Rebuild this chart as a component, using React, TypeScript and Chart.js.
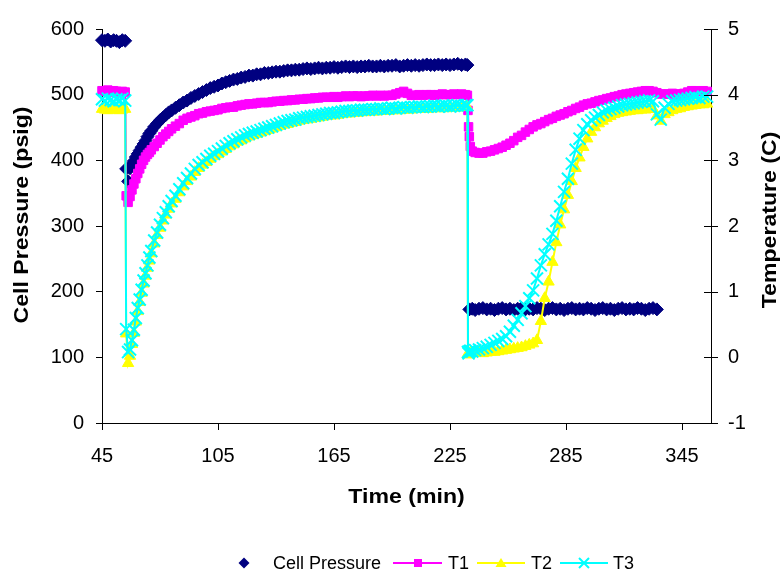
import React, { useEffect, useRef } from "react";
import { Chart, registerables } from "chart.js";

Chart.register(...registerables);

// ---------- DATA ----------
const minutes = [
  // before first drop
  45, 46.5, 48, 49.5, 51, 52.5, 54, 55.5, 57,
  // recovery 1
  57.5, 58.5, 59.5, 60.5, 61.5, 62.5, 63.5, 64.5, 65.5, 66.5, 67.5, 68.5, 69.5, 70.5, 72, 73.5, 75, 76.5, 78, 79.5, 81,
  83, 85, 87, 89, 91, 93, 95, 97, 99, 101,
  103, 105, 107, 109, 111, 113, 115, 117, 119, 121,
  123, 125, 127, 129, 131, 133, 135, 137, 139, 141,
  143, 145, 147, 149, 151, 153, 155, 157, 159, 161,
  163, 165, 167, 169, 171, 173, 175, 177, 179, 181,
  183, 185, 187, 189, 191, 193, 195, 197, 199, 201,
  203, 205, 207, 209, 211, 213, 215, 217, 219, 221,
  223, 225, 227, 229, 231, 233,
  234,
  // second drop
  234.3, 234.6, 235, 235.5, 236.5, 238, 240,
  242, 244, 246, 248, 250, 252, 254, 256, 258, 260,
  262, 264, 266, 268, 270, 272, 274, 276, 278, 280,
  282, 284, 286, 288, 290, 292, 294, 296, 298, 300,
  302, 304, 306, 308, 310, 312, 314, 316, 318, 320,
  322, 324, 326, 328, 330, 332, 334, 336, 338, 340,
  342, 344, 346, 348, 350, 352, 354, 356, 358,
];

const cellPressure: (number | null)[] = [
  583, 582, 584, 581, 583, 582, 580, 583, 582,
  387, 368, 388, 394, 399, 405, 410, 415, 420, 425, 430, 436, 441, 445, 451, 456, 461, 465, 469, 473, 476,
  480, 484, 488, 491, 495, 498, 501, 504, 507, 510,
  512, 514, 517, 519, 521, 523, 524, 526, 527, 529,
  529, 531, 531, 533, 533, 534, 535, 535, 536, 537,
  537, 538, 538, 539, 540, 539, 540, 541, 540, 541,
  541, 542, 541, 542, 543, 542, 543, 542, 543, 543,
  544, 543, 543, 544, 543, 544, 544, 545, 543, 544,
  545, 544, 545, 544, 545, 546, 545, 545, 546, 545,
  546, 545, 546, 547, 545, 546,
  545,
  null, null, 173, null, 174, 172, 174,
  175, 173, 174, 172, 174, 175, 173, 174, 172, 174,
  175, 173, 174, 173, 175, 174, 172, 174, 175, 173,
  174, 172, 174, 175, 173, 174, 173, 175, 174, 172,
  174, 175, 173, 174, 172, 174, 175, 173, 174, 173,
  175, 174, 172, 174, 175, 173, null, null, null, null,
  null, null, null, null, null, null, null, null, null,
];

const t1: number[] = [
  4.06, 4.05, 4.07, 4.04, 4.06, 4.05, 4.03, 4.05, 4.04,
  2.46, 2.36, 2.45, 2.55, 2.64, 2.72, 2.8, 2.87, 2.94, 3.0, 3.05, 3.09, 3.12, 3.16, 3.21, 3.26, 3.31, 3.36, 3.4, 3.44, 3.48,
  3.52, 3.56, 3.61, 3.64, 3.66, 3.68, 3.71, 3.72, 3.74, 3.75,
  3.76, 3.77, 3.79, 3.8, 3.81, 3.81, 3.83, 3.84, 3.85, 3.86,
  3.86, 3.87, 3.88, 3.88, 3.88, 3.89, 3.9, 3.9, 3.91, 3.91,
  3.92, 3.92, 3.93, 3.93, 3.94, 3.94, 3.95, 3.95, 3.96, 3.96,
  3.96, 3.97, 3.96, 3.97, 3.98, 3.97, 3.98, 3.98, 3.97, 3.98,
  3.98, 3.99, 3.98, 3.99, 3.98, 3.99, 3.99, 4.01, 4.03, 4.05,
  4.02, 3.99, 3.99, 4.0, 3.99, 4.0, 4.0, 3.99, 4.0, 4.01,
  4.0, 4.0, 4.01, 4.0, 4.01, 4.0,
  3.99,
  3.76, 3.51, 3.36, 3.21, 3.14, 3.12, 3.11,
  3.11, 3.13, 3.14, 3.16, 3.18, 3.2, 3.23, 3.26, 3.3, 3.35,
  3.38, 3.43, 3.47, 3.51, 3.54, 3.56, 3.59, 3.62, 3.64, 3.67,
  3.69, 3.71, 3.74, 3.76, 3.79, 3.81, 3.84, 3.86, 3.87, 3.89,
  3.91, 3.92, 3.94, 3.95, 3.97, 3.98, 4.0, 4.01, 4.02, 4.03,
  4.04, 4.05, 4.06, 4.06, 4.05, 4.03, 4.01, 4.01, 4.01, 4.02,
  4.01, 4.01, 4.02, 4.04, 4.06, 4.06, 4.05, 4.06, 4.05,
];

const t2: number[] = [
  3.78, 3.77, 3.76, 3.78, 3.77, 3.79, 3.76, 3.77, 3.78,
  0.36, -0.09, 0.02, 0.2, 0.37, 0.54, 0.7, 0.84, 0.98, 1.12, 1.24, 1.36, 1.47, 1.58, 1.73, 1.86, 1.97, 2.08, 2.17, 2.26, 2.34,
  2.41, 2.51, 2.6, 2.68, 2.75, 2.82, 2.88, 2.93, 2.97, 3.02,
  3.06, 3.09, 3.13, 3.17, 3.21, 3.24, 3.28, 3.3, 3.33, 3.36,
  3.38, 3.4, 3.42, 3.44, 3.46, 3.48, 3.5, 3.52, 3.54, 3.55,
  3.57, 3.58, 3.6, 3.61, 3.62, 3.63, 3.64, 3.65, 3.66, 3.67,
  3.68, 3.68, 3.69, 3.7, 3.71, 3.71, 3.72, 3.72, 3.73, 3.73,
  3.74, 3.74, 3.74, 3.75, 3.75, 3.75, 3.76, 3.76, 3.76, 3.77,
  3.77, 3.77, 3.78, 3.78, 3.78, 3.78, 3.79, 3.79, 3.79, 3.8,
  3.79, 3.8, 3.8, 3.8, 3.81, 3.81,
  3.81,
  0.06, 0.04, 0.05, 0.07, 0.06, 0.07, 0.08,
  0.06, 0.07, 0.08, 0.08, 0.09, 0.1, 0.11, 0.12, 0.13, 0.14,
  0.15, 0.17, 0.19, 0.21, 0.26, 0.55, 0.9, 1.15, 1.45, 1.75,
  2.02, 2.25, 2.47, 2.68, 2.88, 3.04, 3.2, 3.33, 3.43, 3.5,
  3.56, 3.6, 3.64, 3.67, 3.7, 3.72, 3.73, 3.74, 3.75, 3.76,
  3.76, 3.77, 3.77, 3.78, 3.78, 3.68, 3.6, 3.7, 3.73, 3.76,
  3.78, 3.79, 3.81, 3.82, 3.83, 3.84, 3.85, 3.85, 3.86,
];

const t3: number[] = [
  3.93, 3.91, 3.94, 3.92, 3.9, 3.93, 3.92, 3.94, 3.91,
  0.43, 0.08, 0.12, 0.26, 0.42, 0.6, 0.75, 0.88, 1.03, 1.17, 1.28, 1.4, 1.52, 1.62, 1.78, 1.9, 2.02, 2.12, 2.21, 2.3, 2.38,
  2.46, 2.56, 2.65, 2.73, 2.8, 2.87, 2.93, 2.97, 3.02, 3.07,
  3.1, 3.14, 3.18, 3.22, 3.26, 3.29, 3.32, 3.35, 3.38, 3.4,
  3.42, 3.44, 3.46, 3.48, 3.5, 3.52, 3.54, 3.56, 3.58, 3.6,
  3.61, 3.62, 3.64, 3.65, 3.66, 3.67, 3.68, 3.69, 3.7, 3.71,
  3.72, 3.72, 3.73, 3.74, 3.75, 3.75, 3.76, 3.76, 3.77, 3.77,
  3.77, 3.78, 3.78, 3.79, 3.78, 3.79, 3.8, 3.79, 3.8, 3.81,
  3.8, 3.81, 3.81, 3.82, 3.81, 3.82, 3.82, 3.83, 3.82, 3.83,
  3.83, 3.82, 3.83, 3.84, 3.83, 3.84,
  3.84,
  0.08, 0.06, 0.09, 0.1, 0.09, 0.11, 0.12,
  0.14, 0.16, 0.19, 0.22, 0.25, 0.28, 0.32, 0.39, 0.48, 0.57,
  0.67, 0.78, 0.9, 1.02, 1.2, 1.4, 1.57, 1.72, 1.88, 2.08,
  2.3, 2.52, 2.72, 2.95, 3.16, 3.33, 3.46, 3.55, 3.61, 3.65,
  3.69, 3.73, 3.76, 3.78, 3.8, 3.82, 3.84, 3.85, 3.86, 3.87,
  3.88, 3.89, 3.9, 3.91, 3.9, 3.7, 3.62, 3.8, 3.86, 3.9,
  3.91, 3.92, 3.93, 3.94, 3.95, 3.96, 3.95, 3.97, 3.97,
];

const xTicks = [45, 105, 165, 225, 285, 345];
const seriesNames = ["Cell Pressure", "T1", "T2", "T3"];
const xTitle = "Time (min)";
const yTitle = "Cell Pressure (psig)";
const y1Title = "Temperature (C)";

// ---------- STYLE ----------
const FONT = "'Liberation Sans', Arial, Helvetica, sans-serif";
const NAVY = "#000080";
const MAGENTA = "#FF00FF";
const YELLOW = "#FFFF00";
const CYAN = "#00FFFF";
const W = 784;
const H = 575;

const toPoints = (ys: (number | null)[]) => minutes.map((m, i) => ({ x: m, y: ys[i] ?? null }));

function drawMarker(ctx: CanvasRenderingContext2D, style: string, x: number, y: number, color: string) {
  ctx.save();
  ctx.fillStyle = color;
  ctx.strokeStyle = color;
  ctx.lineWidth = 1;
  ctx.beginPath();
  if (style === "diamond") {
    const r = 5.5;
    ctx.moveTo(x, y - r);
    ctx.lineTo(x + r, y);
    ctx.lineTo(x, y + r);
    ctx.lineTo(x - r, y);
    ctx.closePath();
    ctx.fill();
  } else if (style === "square") {
    ctx.rect(x - 4, y - 4, 8, 8);
    ctx.fill();
  } else if (style === "triangle") {
    ctx.moveTo(x, y - 5);
    ctx.lineTo(x + 5.5, y + 4);
    ctx.lineTo(x - 5.5, y + 4);
    ctx.closePath();
    ctx.fill();
  } else if (style === "x") {
    ctx.lineWidth = 2;
    ctx.moveTo(x - 5, y - 5);
    ctx.lineTo(x + 5, y + 5);
    ctx.moveTo(x + 5, y - 5);
    ctx.lineTo(x - 5, y + 5);
    ctx.stroke();
  }
  ctx.restore();
}

const decorPlugin = {
  id: "decor",
  afterDraw(chart: any) {
    const ctx: CanvasRenderingContext2D = chart.ctx;
    const area = chart.chartArea;
    const y1 = chart.scales.y1;
    // crossing tick marks on right axis
    ctx.save();
    ctx.strokeStyle = "#000";
    ctx.lineWidth = 1;
    ctx.beginPath();
    y1.ticks.forEach((_t: any, i: number) => {
      const py = Math.round(y1.getPixelForTick(i)) + 0.5;
      ctx.moveTo(area.right - 7, py);
      ctx.lineTo(area.right + 7, py);
    });
    ctx.stroke();
    ctx.restore();

    // axis titles
    ctx.save();
    ctx.fillStyle = "#000";
    ctx.font = `bold 21px ${FONT}`;
    ctx.textAlign = "center";
    ctx.textBaseline = "alphabetic";
    ctx.save();
    ctx.translate((area.left + area.right) / 2, 503);
    ctx.scale(1.1, 1);
    ctx.fillText(xTitle, 0, 0);
    ctx.restore();
    ctx.save();
    ctx.translate(28, 215);
    ctx.rotate(-Math.PI / 2);
    ctx.scale(1.1, 1);
    ctx.fillText(yTitle, 0, 0);
    ctx.restore();
    ctx.save();
    ctx.translate(776, 220);
    ctx.rotate(-Math.PI / 2);
    ctx.scale(1.1, 1);
    ctx.fillText(y1Title, 0, 0);
    ctx.restore();
    ctx.restore();

    // legend
    const ly = 563;
    const items = [
      { name: seriesNames[0], color: NAVY, marker: "diamond", line: false, mx: 244, tx: 273 },
      { name: seriesNames[1], color: MAGENTA, marker: "square", line: true, lx0: 393, lx1: 442, mx: 418, tx: 448 },
      { name: seriesNames[2], color: YELLOW, marker: "triangle", line: true, lx0: 477, lx1: 525, mx: 501, tx: 531 },
      { name: seriesNames[3], color: CYAN, marker: "x", line: true, lx0: 560, lx1: 608, mx: 584, tx: 613 },
    ];
    ctx.save();
    ctx.font = `18px ${FONT}`;
    ctx.textAlign = "left";
    ctx.textBaseline = "alphabetic";
    items.forEach((it: any) => {
      if (it.line) {
        ctx.save();
        ctx.strokeStyle = it.color;
        ctx.lineWidth = 2;
        ctx.beginPath();
        ctx.moveTo(it.lx0, ly);
        ctx.lineTo(it.lx1, ly);
        ctx.stroke();
        ctx.restore();
      }
      drawMarker(ctx, it.marker, it.mx, ly, it.color);
      ctx.fillStyle = "#000";
      ctx.fillText(it.name, it.tx, ly + 6);
    });
    ctx.restore();
  },
};

export default function App() {
  const ref = useRef<HTMLCanvasElement>(null);

  useEffect(() => {
    document.body.style.margin = "0";
    const canvas = ref.current;
    if (!canvas) return;

    const tickFont = { family: FONT, size: 20 };

    const chart = new Chart(canvas, {
      type: "line",
      data: {
        datasets: [
          {
            label: seriesNames[0],
            data: toPoints(cellPressure),
            yAxisID: "y",
            showLine: false,
            pointStyle: "rectRot",
            pointRadius: 6.5,
            pointBackgroundColor: NAVY,
            pointBorderColor: NAVY,
            pointBorderWidth: 1,
            borderColor: NAVY,
            backgroundColor: NAVY,
            clip: false,
            order: 4,
          },
          {
            label: seriesNames[1],
            data: toPoints(t1),
            yAxisID: "y1",
            borderColor: MAGENTA,
            backgroundColor: MAGENTA,
            borderWidth: 2,
            pointStyle: "rect",
            pointRadius: 6,
            pointBackgroundColor: MAGENTA,
            pointBorderColor: MAGENTA,
            pointBorderWidth: 1,
            tension: 0,
            clip: false,
            order: 3,
          },
          {
            label: seriesNames[2],
            data: toPoints(t2),
            yAxisID: "y1",
            borderColor: YELLOW,
            backgroundColor: YELLOW,
            borderWidth: 2,
            pointStyle: "triangle",
            pointRadius: 6.5,
            pointBackgroundColor: YELLOW,
            pointBorderColor: YELLOW,
            pointBorderWidth: 1,
            tension: 0,
            clip: false,
            order: 2,
          },
          {
            label: seriesNames[3],
            data: toPoints(t3),
            yAxisID: "y1",
            borderColor: CYAN,
            backgroundColor: CYAN,
            borderWidth: 2,
            pointStyle: "crossRot",
            pointRadius: 8.5,
            pointBackgroundColor: CYAN,
            pointBorderColor: CYAN,
            pointBorderWidth: 2,
            tension: 0,
            clip: false,
            order: 1,
          },
        ],
      },
      options: {
        responsive: false,
        animation: false,
        events: [],
        layout: { padding: { top: 20, left: 0, right: 0, bottom: 0 } },
        plugins: {
          legend: { display: false },
          tooltip: { enabled: false },
          title: { display: false },
        },
        scales: {
          x: {
            type: "linear",
            position: "bottom",
            min: 45,
            max: 360,
            afterBuildTicks: (scale: any) => {
              scale.ticks = xTicks.map((v) => ({ value: v }));
            },
            afterFit: (scale: any) => {
              scale.height = 152;
            },
            grid: { drawOnChartArea: false, drawTicks: true, tickLength: 7, color: "#000" },
            border: { display: true, color: "#000", width: 1 },
            ticks: { font: tickFont, color: "#000", padding: 14, maxRotation: 0, autoSkip: false },
          },
          y: {
            type: "linear",
            position: "left",
            min: 0,
            max: 600,
            afterFit: (scale: any) => {
              scale.width = 102;
            },
            grid: { drawOnChartArea: false, drawTicks: true, tickLength: 6, color: "#000" },
            border: { display: true, color: "#000", width: 1 },
            ticks: { stepSize: 100, font: tickFont, color: "#000", padding: 12 },
          },
          y1: {
            type: "linear",
            position: "right",
            min: -1,
            max: 5,
            afterFit: (scale: any) => {
              scale.width = 73;
            },
            grid: { drawOnChartArea: false, drawTicks: false, color: "#000" },
            border: { display: true, color: "#000", width: 1 },
            ticks: { stepSize: 1, font: tickFont, color: "#000", padding: 17 },
          },
        },
      } as any,
      plugins: [decorPlugin],
    } as any);

    return () => chart.destroy();
  }, []);

  return (
    <div style={{ position: "absolute", left: 0, top: 0, width: W, height: H, background: "#fff" }}>
      <canvas ref={ref} width={W} height={H} style={{ display: "block", width: W, height: H }} />
    </div>
  );
}
